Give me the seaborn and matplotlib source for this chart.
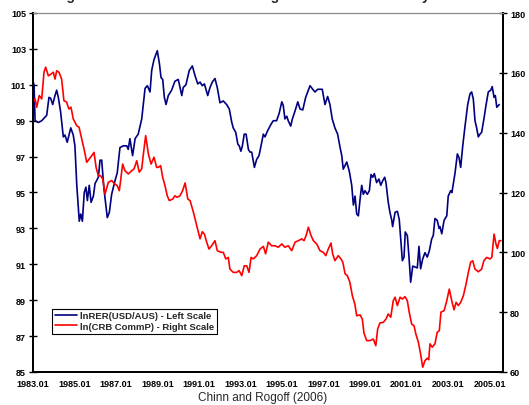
import seaborn as sns
import matplotlib.pyplot as plt
import pandas as pd
import numpy as np

# --------------------------------------------------
# Data (decimal years)
# --------------------------------------------------
rer_years = [1983.00, 1983.05, 1983.10, 1983.26, 1983.42, 1983.58, 1983.66, 1983.77, 1983.85, 1983.95,
             1984.06, 1984.14, 1984.22, 1984.33, 1984.46, 1984.54, 1984.65, 1984.82, 1984.94, 1985.02,
             1985.11, 1985.23, 1985.30, 1985.38, 1985.47, 1985.55, 1985.62, 1985.71, 1985.80, 1985.91,
             1985.99, 1986.15, 1986.23, 1986.31, 1986.42, 1986.58, 1986.68, 1986.79, 1986.95, 1987.06,
             1987.19, 1987.35, 1987.52, 1987.59, 1987.67, 1987.80, 1987.92, 1988.07, 1988.24, 1988.40,
             1988.51, 1988.64, 1988.72, 1988.83, 1988.99, 1989.09, 1989.17, 1989.25, 1989.33, 1989.41,
             1989.52, 1989.68, 1989.84, 1990.00, 1990.17, 1990.24, 1990.37, 1990.53, 1990.68, 1990.81,
             1990.94, 1991.05, 1991.16, 1991.26, 1991.42, 1991.53, 1991.64, 1991.77, 1991.88, 1992.01,
             1992.17, 1992.33, 1992.46, 1992.58, 1992.65, 1992.77, 1992.87, 1992.94, 1993.02, 1993.09,
             1993.18, 1993.27, 1993.38, 1993.46, 1993.54, 1993.67, 1993.78, 1993.89, 1993.99, 1994.10,
             1994.18, 1994.31, 1994.47, 1994.58, 1994.74, 1994.86, 1994.99, 1995.06, 1995.14, 1995.23,
             1995.30, 1995.42, 1995.50, 1995.63, 1995.76, 1995.87, 1996.00, 1996.14, 1996.35, 1996.48,
             1996.59, 1996.72, 1996.87, 1996.94, 1997.07, 1997.20, 1997.31, 1997.42, 1997.55, 1997.68,
             1997.80, 1997.88, 1997.95, 1998.12, 1998.24, 1998.36, 1998.44, 1998.52, 1998.60, 1998.68,
             1998.76, 1998.84, 1998.92, 1999.00, 1999.11, 1999.21, 1999.29, 1999.37, 1999.45, 1999.56,
             1999.67, 1999.76, 1999.85, 1999.95, 2000.01, 2000.12, 2000.20, 2000.29, 2000.33, 2000.45,
             2000.56, 2000.65, 2000.72, 2000.80, 2000.88, 2000.94, 2001.04, 2001.12, 2001.20, 2001.30,
             2001.41, 2001.52, 2001.60, 2001.68, 2001.78, 2001.89, 2002.00, 2002.10, 2002.21, 2002.29,
             2002.37, 2002.48, 2002.57, 2002.61, 2002.70, 2002.81, 2002.94, 2003.01, 2003.13, 2003.19,
             2003.34, 2003.45, 2003.53, 2003.61, 2003.71, 2003.82, 2003.95, 2004.06, 2004.14, 2004.22,
             2004.30, 2004.38, 2004.46, 2004.54, 2004.62, 2004.73, 2004.83, 2004.94, 2005.06, 2005.13,
             2005.22, 2005.28, 2005.35, 2005.47]
rer_vals = [101.2, 101.0, 99.0, 98.9, 99.0, 99.2, 99.3, 100.3, 100.25, 99.9,
            100.4, 100.7, 100.3, 99.5, 98.1, 98.2, 97.8, 98.6, 98.2, 97.6,
            95.4, 93.4, 93.8, 93.4, 95.0, 95.3, 94.55, 95.4, 94.45, 94.8,
            95.5, 95.85, 96.8, 96.8, 95.2, 93.6, 93.9, 94.9, 95.65, 96.1,
            97.5, 97.6, 97.6, 97.4, 98.0, 97.05, 98.0, 98.25, 99.1, 100.8,
            100.95, 100.6, 101.8, 102.4, 102.9, 102.2, 101.4, 101.3, 100.3, 99.9,
            100.4, 100.7, 101.2, 101.3, 100.4, 100.85, 101.0, 101.8, 102.05, 101.5,
            101.05, 101.15, 100.95, 101.05, 100.4, 100.85, 101.15, 101.35, 100.85, 100.0,
            100.1, 99.9, 99.65, 98.9, 98.6, 98.35, 97.7, 97.6, 97.3, 97.6,
            98.25, 98.25, 97.4, 97.25, 97.25, 96.4, 96.85, 97.05, 97.6, 98.25,
            98.1, 98.45, 98.8, 99.0, 99.0, 99.4, 100.05, 99.85, 99.1, 99.25,
            99.0, 98.7, 99.1, 99.55, 100.05, 99.65, 99.6, 100.3, 100.95, 100.75,
            100.6, 100.75, 100.75, 100.75, 99.9, 100.35, 99.9, 99.1, 98.6, 98.25,
            97.5, 97.05, 96.3, 96.7, 96.2, 95.4, 94.3, 94.8, 93.8, 93.7,
            94.6, 95.4, 94.9, 95.1, 94.9, 95.1, 96.0, 95.85, 96.05, 95.55,
            95.75, 95.4, 95.65, 95.85, 95.55, 94.45, 93.9, 93.45, 93.1, 93.9,
            93.95, 93.5, 92.4, 91.2, 91.4, 92.8, 92.6, 91.4, 90.0, 90.9,
            90.85, 90.8, 92.0, 90.75, 91.3, 91.65, 91.4, 91.75, 92.4, 92.6,
            93.55, 93.45, 93.0, 93.1, 92.7, 93.45, 93.7, 94.8, 95.1, 95.0,
            96.1, 97.15, 96.95, 96.4, 97.6, 98.7, 99.9, 100.5, 100.6, 100.2,
            99.0, 98.6, 98.1, 98.25, 98.35, 99.1, 99.85, 100.6, 100.7, 100.9,
            100.3, 100.4, 99.75, 99.9]

crb_years = [1983.00, 1983.10, 1983.18, 1983.30, 1983.42, 1983.53, 1983.61, 1983.74, 1983.87, 1983.98,
             1984.06, 1984.14, 1984.25, 1984.38, 1984.49, 1984.62, 1984.73, 1984.83, 1984.94, 1985.11,
             1985.22, 1985.35, 1985.46, 1985.59, 1985.71, 1985.83, 1985.94, 1986.04, 1986.15, 1986.26,
             1986.36, 1986.47, 1986.63, 1986.79, 1986.95, 1987.06, 1987.16, 1987.32, 1987.43, 1987.59,
             1987.76, 1987.87, 1988.00, 1988.12, 1988.24, 1988.32, 1988.43, 1988.56, 1988.69, 1988.83,
             1988.96, 1989.04, 1989.15, 1989.25, 1989.36, 1989.47, 1989.57, 1989.73, 1989.84, 1989.95,
             1990.08, 1990.21, 1990.33, 1990.46, 1990.57, 1990.73, 1990.89, 1991.05, 1991.16, 1991.26,
             1991.37, 1991.48, 1991.61, 1991.77, 1991.88, 1992.06, 1992.17, 1992.29, 1992.41, 1992.49,
             1992.65, 1992.82, 1992.93, 1993.06, 1993.18, 1993.30, 1993.41, 1993.51, 1993.62, 1993.78,
             1993.94, 1994.10, 1994.21, 1994.34, 1994.50, 1994.66, 1994.82, 1994.99, 1995.14, 1995.30,
             1995.47, 1995.63, 1995.79, 1995.95, 1996.06, 1996.16, 1996.27, 1996.40, 1996.51, 1996.67,
             1996.83, 1996.99, 1997.11, 1997.23, 1997.36, 1997.44, 1997.55, 1997.71, 1997.84, 1997.93,
             1998.04, 1998.15, 1998.27, 1998.39, 1998.51, 1998.60, 1998.76, 1998.87, 1998.95, 1999.08,
             1999.24, 1999.40, 1999.52, 1999.61, 1999.72, 1999.88, 2000.01, 2000.12, 2000.24, 2000.36,
             2000.45, 2000.56, 2000.69, 2000.80, 2000.93, 2001.04, 2001.13, 2001.25, 2001.36, 2001.45,
             2001.57, 2001.68, 2001.78, 2001.89, 2002.00, 2002.07, 2002.13, 2002.24, 2002.37, 2002.48,
             2002.58, 2002.66, 2002.81, 2002.94, 2003.06, 2003.18, 2003.29, 2003.39, 2003.50, 2003.61,
             2003.74, 2003.87, 2003.98, 2004.09, 2004.19, 2004.30, 2004.46, 2004.62, 2004.73, 2004.86,
             2005.02, 2005.11, 2005.22, 2005.31, 2005.38, 2005.47, 2005.55]
crb_vals = [150.2, 151.3, 148.5, 152.4, 151.3, 160.2, 161.9, 159.0, 159.6, 160.2,
            157.9, 160.7, 160.2, 157.9, 150.7, 150.2, 147.9, 148.5, 144.6, 142.3,
            141.8, 137.9, 134.5, 130.1, 131.2, 132.3, 133.4, 128.4, 125.6, 125.6,
            124.5, 119.5, 123.4, 124.0, 122.8, 122.3, 120.6, 129.5, 127.3, 126.2,
            127.3, 127.9, 130.6, 126.8, 127.9, 132.9, 139.0, 132.9, 129.5, 131.8,
            128.4, 128.4, 129.0, 125.1, 122.3, 118.9, 117.3, 117.8, 118.9, 118.4,
            118.9, 120.6, 123.2, 117.8, 117.3, 113.4, 108.9, 104.5, 106.9, 106.1,
            103.4, 101.1, 102.2, 103.9, 100.55, 100.0, 100.0, 97.8, 98.3, 94.4,
            93.3, 93.3, 93.9, 92.2, 95.5, 95.5, 93.3, 98.3, 97.8, 98.9,
            101.1, 102.0, 99.5, 103.4, 102.2, 102.2, 101.7, 102.8, 101.7, 102.2,
            100.55, 103.4, 103.9, 104.5, 103.9, 105.6, 108.4, 105.6, 103.9, 102.8,
            100.55, 100.0, 98.9, 101.1, 103.1, 99.5, 97.2, 98.9, 97.8, 96.7,
            92.8, 92.2, 90.0, 85.5, 82.7, 78.8, 79.1, 77.7, 73.0, 70.5,
            70.5, 71.0, 68.8, 74.4, 76.4, 76.6, 77.7, 79.4, 78.3, 83.8,
            85.0, 82.2, 85.0, 84.4, 85.2, 83.8, 80.0, 76.0, 75.5, 72.7,
            70.0, 66.0, 61.6, 63.8, 64.6, 64.1, 69.4, 68.3, 69.4, 73.3,
            73.8, 80.0, 80.5, 83.8, 87.7, 83.8, 80.8, 83.3, 82.2, 83.3,
            85.5, 89.4, 93.3, 96.7, 97.2, 94.4, 93.5, 94.4, 97.2, 98.3,
            97.8, 98.3, 106.1, 102.8, 101.3, 103.9, 103.9]

left_ticks = [85, 87, 89, 91, 93, 95, 97, 99, 101, 103, 105]
right_ticks = [60, 80, 100, 120, 140, 160, 180]
year_labels = [1983, 1985, 1987, 1989, 1991, 1993, 1995, 1997, 1999, 2001, 2003, 2005]

rer = pd.DataFrame({"year": rer_years, "value": rer_vals})
crb = pd.DataFrame({"year": crb_years, "value": crb_vals})

# --------------------------------------------------
# Plot
# --------------------------------------------------
sns.set_style("white")
plt.rcParams["font.family"] = ["Liberation Sans", "DejaVu Sans"]

fig = plt.figure(figsize=(5.29, 4.06), dpi=100)
ax = fig.add_axes([33 / 529, 1 - 373 / 406, 470 / 529, 359 / 406])
ax2 = ax.twinx()

sns.lineplot(data=rer, x="year", y="value", ax=ax, color="#000080", lw=1.2,
             label="lnRER(USD/AUS) - Left Scale", legend=False)
sns.lineplot(data=crb, x="year", y="value", ax=ax2, color="#ff0000", lw=1.2,
             label="ln(CRB CommP) - Right Scale", legend=False)

ax.set_xlim(1983.0, 2005.65)
ax.set_ylim(85, 105)
ax2.set_ylim(60, 180)
ax.set_yticks(left_ticks)
ax.set_yticklabels([str(t) for t in left_ticks], fontsize=6.5, fontweight="bold")
ax2.set_yticks(right_ticks)
ax2.set_yticklabels([str(t) for t in right_ticks], fontsize=6.5, fontweight="bold")
ax.set_xticks(year_labels)
ax.set_xticklabels([f"{y}.01" for y in year_labels], fontsize=6.5, fontweight="bold")
ax.set_xticks(np.arange(1984, 2006, 2), minor=True)
ax.set_xlabel("")
ax.set_ylabel("")
ax2.set_ylabel("")

for a in (ax, ax2):
    a.tick_params(which="both", direction="inout", length=6, width=1, colors="black", pad=2)
    for s in ("left", "right", "bottom"):
        a.spines[s].set_color("black")
        a.spines[s].set_linewidth(1.3)
    a.spines["top"].set_color("#888888")
    a.spines["top"].set_linewidth(0.8)
ax.tick_params(axis="x", which="both", top=False)

h1, l1 = ax.get_legend_handles_labels()
h2, l2 = ax2.get_legend_handles_labels()
leg = ax2.legend(h1 + h2, l1 + l2, loc="upper left", bbox_to_anchor=(0.03, 0.19),
                 fancybox=False, edgecolor="black", framealpha=1,
                 prop={"size": 6.8, "weight": "bold"}, handlelength=2.4,
                 borderpad=0.3, labelspacing=0.15, handletextpad=0.3)
leg.get_frame().set_linewidth(0.8)

# title sits above the top edge of the image, only its descenders show (as in the source)
fig.text(0.5, 1.0, "Figure 1: Australian Real Exchange Rate and Commodity Prices",
         ha="center", va="baseline", fontsize=10, fontweight="bold")
fig.text(263 / 529, 1 - 398 / 406, "Chinn and Rogoff (2006)", ha="center", va="center",
         fontsize=8.5)

plt.savefig("out.png", dpi=100)
